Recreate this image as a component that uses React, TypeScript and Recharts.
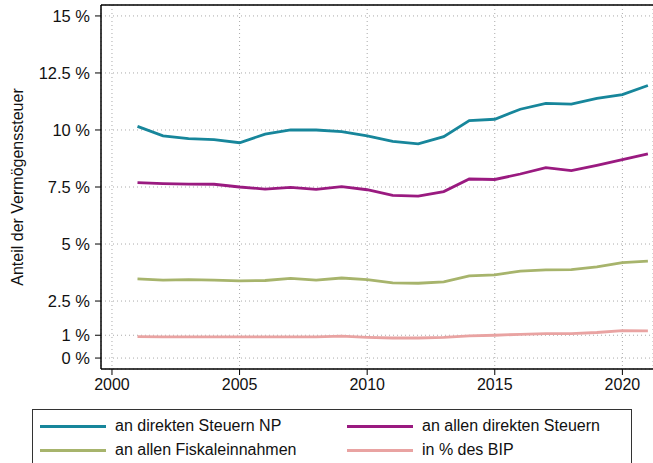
import React from "react";
import {
  LineChart,
  Line,
  XAxis,
  YAxis,
  CartesianGrid,
  ReferenceLine,
} from "recharts";

const years = [2001, 2002, 2003, 2004, 2005, 2006, 2007, 2008, 2009, 2010, 2011, 2012, 2013, 2014, 2015, 2016, 2017, 2018, 2019, 2020, 2021];
const direkteNP = [10.16, 9.74, 9.62, 9.58, 9.44, 9.82, 10.0, 10.0, 9.93, 9.74, 9.5, 9.39, 9.71, 10.41, 10.47, 10.91, 11.17, 11.13, 11.39, 11.55, 11.95];
const alleDirekten = [7.69, 7.65, 7.63, 7.62, 7.5, 7.41, 7.48, 7.4, 7.52, 7.38, 7.13, 7.1, 7.3, 7.85, 7.83, 8.07, 8.35, 8.22, 8.45, 8.7, 8.95];
const fiskal = [3.47, 3.42, 3.44, 3.42, 3.38, 3.4, 3.49, 3.42, 3.51, 3.44, 3.3, 3.28, 3.34, 3.6, 3.65, 3.81, 3.87, 3.88, 4.0, 4.18, 4.25];
const bip = [0.94, 0.93, 0.93, 0.93, 0.93, 0.93, 0.93, 0.93, 0.96, 0.91, 0.88, 0.88, 0.91, 0.97, 1.0, 1.04, 1.07, 1.07, 1.12, 1.2, 1.19];

const xTicks = [2000, 2005, 2010, 2015, 2020];
const yTicks = [0, 1, 2.5, 5, 7.5, 10, 12.5, 15];
const yTickLabels = ["0 %", "1 %", "2.5 %", "5 %", "7.5 %", "10 %", "12.5 %", "15 %"];

const seriesNames = [
  "an direkten Steuern NP",
  "an allen direkten Steuern",
  "an allen Fiskaleinnahmen",
  "in % des BIP",
];
const seriesKeys = ["np", "alle", "fiskal", "bip"];
const seriesColors = ["#17869b", "#9a1a80", "#a7b46c", "#e9a3a2"];

const data = years.map((y, i) => ({
  year: y,
  np: direkteNP[i],
  alle: alleDirekten[i],
  fiskal: fiskal[i],
  bip: bip[i],
}));

const FONT = "'Liberation Sans', Arial, Helvetica, sans-serif";

const LegendBox = () => {
  const order = [0, 1, 2, 3];
  return (
    <div
      style={{
        position: "absolute",
        left: 32,
        top: 409,
        width: 600,
        height: 70,
        border: "1px solid #333",
        boxSizing: "border-box",
        background: "#fff",
        fontFamily: FONT,
        fontSize: 16,
        color: "#111",
      }}
    >
      {order.map((i) => {
        const col = i % 2;
        const row = Math.floor(i / 2);
        return (
          <div
            key={i}
            style={{
              position: "absolute",
              left: col === 0 ? 7 : 314,
              top: 5 + row * 24,
              height: 22,
              display: "flex",
              alignItems: "center",
              whiteSpace: "nowrap",
            }}
          >
            <span
              style={{
                display: "inline-block",
                width: 66,
                height: 3,
                background: seriesColors[i],
                marginRight: 9,
              }}
            />
            <span>{seriesNames[i]}</span>
          </div>
        );
      })}
    </div>
  );
};

export default function App() {
  return (
    <div style={{ position: "absolute", left: 0, top: 0, width: 653, height: 463, overflow: "hidden", background: "#fff" }}>
      <LineChart
        width={653}
        height={463}
        data={data}
        margin={{ top: 5, right: 0, bottom: 64, left: 0 }}
      >
        <CartesianGrid stroke="#aaaaaa" strokeDasharray="1 3" />
        <XAxis
          dataKey="year"
          type="number"
          domain={[1999.57, 2021.2]}
          allowDataOverflow
          ticks={xTicks}
          height={30}
          tickSize={6}
          tickMargin={4}
          axisLine={{ stroke: "#000", strokeWidth: 1.5 }}
          tickLine={{ stroke: "#000", strokeWidth: 1 }}
          tick={{ fill: "#111", fontSize: 16, fontFamily: FONT }}
        />
        <YAxis
          type="number"
          domain={[-0.48, 15.48]}
          allowDataOverflow
          ticks={yTicks}
          interval={0}
          width={101}
          tickSize={6}
          tickMargin={5}
          tickFormatter={(v: number) => yTickLabels[yTicks.indexOf(v)]}
          axisLine={{ stroke: "#000", strokeWidth: 1.5 }}
          tickLine={{ stroke: "#000", strokeWidth: 1 }}
          tick={{ fill: "#111", fontSize: 16.5, fontFamily: FONT }}
          label={{
            value: "Anteil der Vermögenssteuer",
            angle: -90,
            position: "insideLeft",
            offset: 17,
            style: { textAnchor: "middle", fill: "#111", fontSize: 16, fontFamily: FONT },
          }}
        />
        <ReferenceLine y={15.48} stroke="#000" strokeWidth={1.5} ifOverflow="visible" />
        {seriesKeys.map((k, i) => (
          <Line
            key={k}
            type="linear"
            dataKey={k}
            name={seriesNames[i]}
            stroke={seriesColors[i]}
            strokeWidth={2.8}
            dot={false}
            activeDot={false}
            isAnimationActive={false}
          />
        ))}
      </LineChart>
      <LegendBox />
    </div>
  );
}
